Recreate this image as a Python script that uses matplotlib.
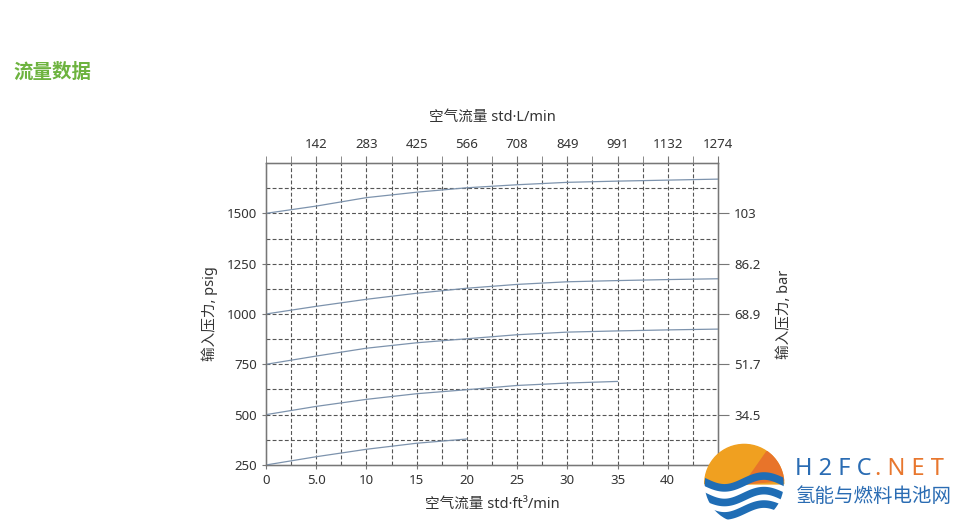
import matplotlib
matplotlib.use("Agg")
import matplotlib.pyplot as plt
import numpy as np
from matplotlib.patches import Wedge, Circle

plt.rcParams['font.family'] = ['Noto Sans', 'Noto Sans CJK SC', 'DejaVu Sans']

# flow in std ft3/min vs inlet pressure psig
flow_1500 = [0, 5, 10, 15, 20, 25, 30, 35, 40, 45]
psi_1500 = [1500, 1536, 1578, 1605, 1627, 1642, 1654, 1660, 1665, 1670]
flow_1000 = [0, 5, 10, 15, 20, 25, 30, 35, 40, 45]
psi_1000 = [1000, 1038, 1073, 1103, 1128, 1147, 1160, 1166, 1171, 1175]
flow_750 = [0, 5, 10, 15, 20, 25, 30, 35, 40, 45]
psi_750 = [750, 791, 830, 857, 877, 897, 910, 916, 921, 925]
flow_500 = [0, 5, 10, 15, 20, 25, 30, 35]
psi_500 = [500, 541, 576, 604, 624, 645, 657, 665]
flow_250 = [0, 5, 10, 15, 20]
psi_250 = [250, 291, 328, 358, 379]

bottom_ticks = [0, 5, 10, 15, 20, 25, 30, 35, 40, 45]
bottom_labels = ["0", "5.0", "10", "15", "20", "25", "30", "35", "40", "45"]
top_ticks = [5, 10, 15, 20, 25, 30, 35, 40, 45]
top_labels = ["142", "283", "425", "566", "708", "849", "991", "1132", "1274"]
left_ticks = [250, 500, 750, 1000, 1250, 1500]
right_ticks = [500, 750, 1000, 1250, 1500]
right_labels = ["34.5", "51.7", "68.9", "86.2", "103"]

line_color = "#7d93ad"
grid_color = "#555555"
edge_color = "#777777"

fig = plt.figure(figsize=(9.76, 5.26), dpi=100)
ax = fig.add_axes([0.2725, 0.116, 0.4631, 0.5741])

for fx, py in [(flow_1500, psi_1500), (flow_1000, psi_1000), (flow_750, psi_750),
               (flow_500, psi_500), (flow_250, psi_250)]:
    ax.plot(fx, py, color=line_color, lw=0.9, zorder=3)

ax.set_xlim(0, 45)
ax.set_ylim(250, 1750)

# dashed grid every 2.5 ft3/min and 125 psi
for gx in np.arange(2.5, 45, 2.5):
    ax.axvline(gx, color=grid_color, lw=0.8, ls=(0, (3.5, 2)), zorder=1)
for gy in np.arange(375, 1750, 125):
    ax.axhline(gy, color=grid_color, lw=0.8, ls=(0, (3.5, 2)), zorder=1)

ax.set_xticks(bottom_ticks)
ax.set_xticklabels(bottom_labels)
ax.set_yticks(left_ticks)
ax.tick_params(axis="both", labelsize=9.5, colors="#333333", length=3, color=edge_color)
ax.set_xlabel("空气流量 std·ft³/min", fontsize=10.5, color="#333333", labelpad=8)
ax.set_ylabel("输入压力, psig", fontsize=10.5, color="#333333", labelpad=6)

for sp in ax.spines.values():
    sp.set_color(edge_color)
    sp.set_linewidth(1.0)

top = ax.twiny()
top.set_xlim(ax.get_xlim())
top.set_xticks(top_ticks)
top.set_xticklabels(top_labels)
top.set_xticks(np.arange(0, 45, 2.5), minor=True)
top.tick_params(axis="x", labelsize=9.5, colors="#333333", length=5, color=edge_color, pad=4)
top.tick_params(axis="x", which="minor", length=5, color=edge_color)
top.set_xlabel("空气流量 std·L/min", fontsize=10.5, color="#333333", labelpad=12)

right = ax.twinx()
right.set_ylim(ax.get_ylim())
right.set_yticks(right_ticks)
right.set_yticklabels(right_labels)
right.tick_params(axis="y", labelsize=9.5, colors="#333333", length=8, color=edge_color)
right.set_ylabel("输入压力, bar", fontsize=10.5, color="#333333", labelpad=12)
for a in (top, right):
    for sp in a.spines.values():
        sp.set_color(edge_color)

fig.text(0.014, 0.862, "流量数据", fontsize=14, fontweight="bold", color="#6db33f",
         va="center", ha="left")

# watermark logo
lg = fig.add_axes([0.72, 0.0, 0.085, 0.16])
lg.set_xlim(-1.05, 1.05)
lg.set_ylim(-1.05, 1.05)
lg.set_aspect("equal")
lg.axis("off")
clip = Circle((0, 0), 1.0, transform=lg.transData)
lg.add_patch(Wedge((0, 0), 1.0, 0, 180, color="#f0a020"))
lg.add_patch(Wedge((0, 0), 1.0, 5, 55, color="#e8742a"))
t = np.linspace(-1.1, 1.1, 120)
for off in [0.05, -0.32, -0.66]:
    yy = off + 0.15 * np.sin(np.pi * t)
    ln, = lg.plot(t, yy, color="#1f6db5", lw=5.5, solid_capstyle="butt")
    ln.set_clip_path(clip)

fig.text(0.815, 0.108, "H 2 F C", fontsize=17, color="#2a6cb3", va="center", ha="left")
fig.text(0.897, 0.108, ". N E T", fontsize=17, color="#e8772e", va="center", ha="left")
fig.text(0.815, 0.055, "氢能与燃料电池网", fontsize=14, color="#2a6cb3", va="center", ha="left")

fig.savefig("out.png", dpi=100)
